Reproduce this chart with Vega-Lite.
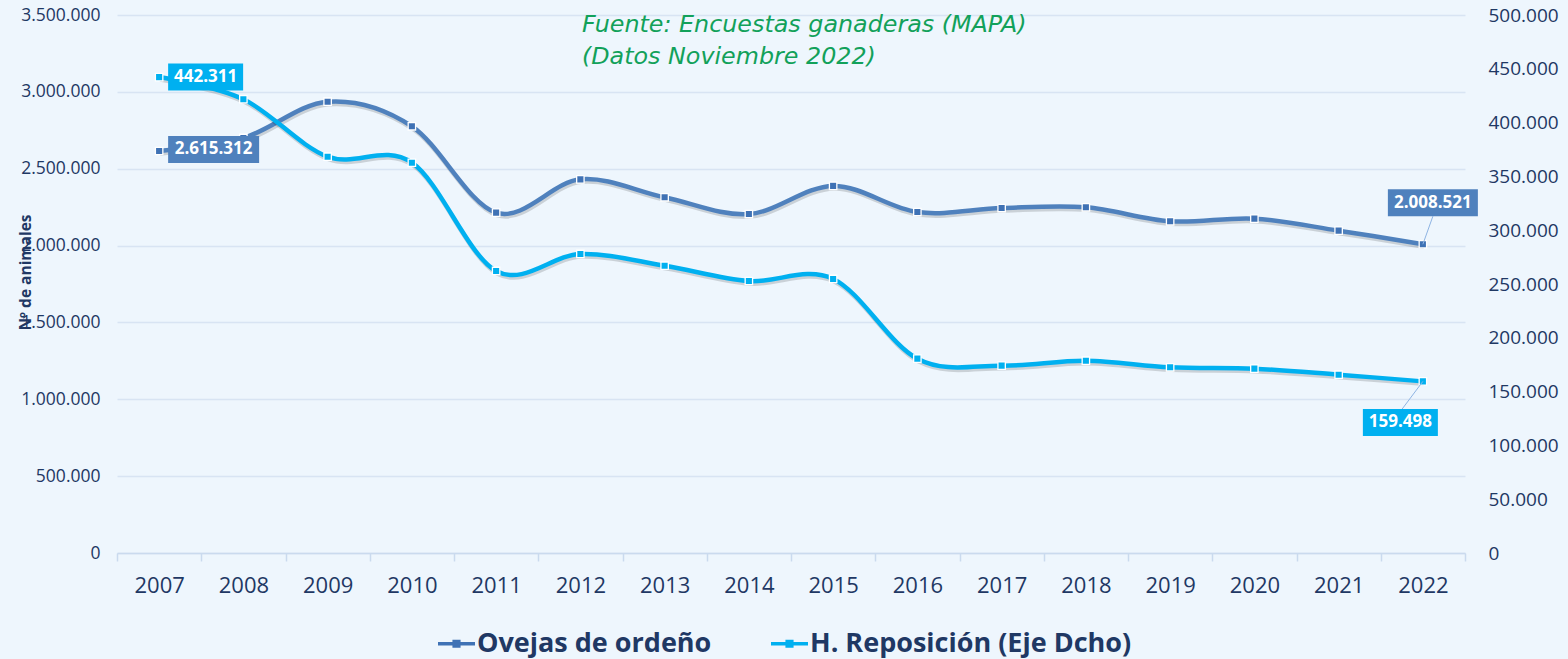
{
  "$schema": "https://vega.github.io/schema/vega-lite/v6.json",
  "width": 1348,
  "height": 538,
  "autosize": {"type": "none"},
  "padding": {"left": 117, "top": 15, "right": 103, "bottom": 106},
  "background": "#EEF6FD",
  "title": {
    "text": ["Fuente: Encuestas ganaderas (MAPA)", "(Datos Noviembre 2022)"],
    "anchor": "start",
    "frame": "group",
    "orient": "top",
    "dx": 465,
    "offset": -63,
    "font": "DejaVu Sans",
    "fontSize": 23.8,
    "fontStyle": "italic",
    "fontWeight": "normal",
    "color": "#12A15A",
    "lineHeight": 32
  },
  "data": {
    "values": [
      {"year": "2007", "ovejas": 2615312, "repos": 442311},
      {"year": "2008", "ovejas": 2700000, "repos": 421700},
      {"year": "2009", "ovejas": 2936000, "repos": 368300},
      {"year": "2010", "ovejas": 2776000, "repos": 362700},
      {"year": "2011", "ovejas": 2214000, "repos": 262100},
      {"year": "2012", "ovejas": 2431000, "repos": 277900},
      {"year": "2013", "ovejas": 2314000, "repos": 267000},
      {"year": "2014", "ovejas": 2205000, "repos": 252800},
      {"year": "2015", "ovejas": 2388000, "repos": 254700},
      {"year": "2016", "ovejas": 2218000, "repos": 180600},
      {"year": "2017", "ovejas": 2244000, "repos": 174100},
      {"year": "2018", "ovejas": 2249000, "repos": 178700},
      {"year": "2019", "ovejas": 2158000, "repos": 172600},
      {"year": "2020", "ovejas": 2175000, "repos": 171300},
      {"year": "2021", "ovejas": 2097000, "repos": 165700},
      {"year": "2022", "ovejas": 2008521, "repos": 159498}
    ]
  },
  "encoding": {
    "x": {
      "field": "year",
      "type": "ordinal",
      "scale": {"type": "band", "paddingInner": 0, "paddingOuter": 0},
      "axis": {
        "title": null,
        "labelAngle": 0,
        "labelFont": "Open Sans",
        "labelFontSize": 22,
        "labelColor": "#1F3864",
        "labelPadding": 14,
        "tickBand": "extent",
        "tickSize": 8,
        "tickColor": "#CADAEE",
        "tickWidth": 1.5,
        "domainColor": "#CADAEE",
        "domainWidth": 1.5,
        "grid": false
      }
    }
  },
  "layer": [
    {
      "encoding": {
        "y": {
          "field": "ovejas",
          "type": "quantitative",
          "scale": {"domain": [0, 3500000], "nice": false},
          "axis": {
            "title": "Nº de animales",
            "values": [0, 500000, 1000000, 1500000, 2000000, 2500000, 3000000, 3500000],
            "format": ",d",
            "labelFont": "Open Sans",
            "labelFontSize": 17.5,
            "labelColor": "#1F3864",
            "labelPadding": 17,
            "ticks": false,
            "tickSize": 0,
            "domain": false,
            "grid": true,
            "gridColor": "#D8E4F3",
            "gridWidth": 1.5,
            "titleX": -92,
            "titleY": 257,
            "titleAngle": -90,
            "titleAlign": "center",
            "titleBaseline": "middle",
            "titleFont": "Open Sans",
            "titleFontSize": 15.5,
            "titleFontWeight": "bold",
            "titleColor": "#1F3864"
          }
        }
      },
      "layer": [
        {"mark": {"type": "line", "interpolate": "cardinal", "color": "#000000", "strokeOpacity": 0.15, "strokeWidth": 4.5, "xOffset": 1, "yOffset": 2.5}},
        {"mark": {"type": "line", "interpolate": "cardinal", "color": "#4F81BD", "strokeWidth": 4.5}},
        {
          "mark": {"type": "point", "shape": "square", "filled": true, "size": 55, "stroke": "white", "strokeWidth": 1.3, "opacity": 1},
          "encoding": {
            "color": {
              "datum": "Ovejas de ordeño",
              "type": "nominal",
              "scale": {"domain": ["Ovejas de ordeño", "H. Reposición (Eje Dcho)"], "range": ["#3F72B5", "#00B0F0"]},
              "legend": {
                "orient": "none",
                "legendX": 321,
                "legendY": 610,
                "direction": "horizontal",
                "title": null,
                "symbolType": "M-1,-0.09H1V0.09H-1Z M-0.22,-0.22H0.22V0.22H-0.22Z",
                "symbolSize": 1369,
                "symbolStrokeWidth": 0,
                "labelFont": "Open Sans",
                "labelFontSize": 27,
                "labelFontWeight": "bold",
                "labelColor": "#1F3864",
                "labelLimit": 600,
                "columnPadding": 59,
                "labelOffset": 2
              }
            }
          }
        },
        {
          "transform": [{"filter": "datum.year == '2022'"}],
          "mark": {"type": "rule", "color": "#8EB4E3", "strokeWidth": 1, "x2Offset": 10, "y2Offset": -28},
          "encoding": {"x2": {"field": "year"}, "y2": {"field": "ovejas"}}
        },
        {
          "transform": [{"filter": "datum.year == '2007'"}],
          "mark": {"type": "rect", "color": "#4F81BD", "width": 91, "height": 27, "xOffset": 54.5, "yOffset": -1.5}
        },
        {
          "transform": [{"filter": "datum.year == '2007'"}],
          "mark": {"type": "text", "color": "white", "font": "Open Sans", "fontWeight": "bold", "fontSize": 17, "dx": 54.5, "dy": -1.5, "baseline": "middle", "align": "center"},
          "encoding": {"text": {"field": "ovejas", "type": "quantitative", "format": ",d"}}
        },
        {
          "transform": [{"filter": "datum.year == '2022'"}],
          "mark": {"type": "rect", "color": "#4F81BD", "width": 90, "height": 27, "xOffset": 10, "yOffset": -41.5}
        },
        {
          "transform": [{"filter": "datum.year == '2022'"}],
          "mark": {"type": "text", "color": "white", "font": "Open Sans", "fontWeight": "bold", "fontSize": 17, "dx": 10, "dy": -41.5, "baseline": "middle", "align": "center"},
          "encoding": {"text": {"field": "ovejas", "type": "quantitative", "format": ",d"}}
        }
      ]
    },
    {
      "encoding": {
        "y": {
          "field": "repos",
          "type": "quantitative",
          "scale": {"domain": [0, 500000], "nice": false},
          "axis": {
            "orient": "right",
            "title": null,
            "values": [0, 50000, 100000, 150000, 200000, 250000, 300000, 350000, 400000, 450000, 500000],
            "format": ",d",
            "labelFont": "Open Sans",
            "labelFontSize": 19,
            "labelColor": "#1F3864",
            "labelPadding": 23,
            "ticks": false,
            "tickSize": 0,
            "domain": false,
            "grid": false
          }
        }
      },
      "layer": [
        {"mark": {"type": "line", "interpolate": "cardinal", "color": "#000000", "strokeOpacity": 0.15, "strokeWidth": 4.5, "xOffset": 1, "yOffset": 2.5}},
        {"mark": {"type": "line", "interpolate": "cardinal", "color": "#00B0F0", "strokeWidth": 4.5}},
        {
          "mark": {"type": "point", "shape": "square", "filled": true, "size": 55, "stroke": "white", "strokeWidth": 1.3, "opacity": 1},
          "encoding": {"color": {"datum": "H. Reposición (Eje Dcho)", "type": "nominal"}}
        },
        {
          "transform": [{"filter": "datum.year == '2022'"}],
          "mark": {"type": "rule", "color": "#8EB4E3", "strokeWidth": 1, "x2Offset": -21, "y2Offset": 28},
          "encoding": {"x2": {"field": "year"}, "y2": {"field": "repos"}}
        },
        {
          "transform": [{"filter": "datum.year == '2007'"}],
          "mark": {"type": "rect", "color": "#00B0F0", "width": 75, "height": 27, "xOffset": 46.5, "yOffset": 0}
        },
        {
          "transform": [{"filter": "datum.year == '2007'"}],
          "mark": {"type": "text", "color": "white", "font": "Open Sans", "fontWeight": "bold", "fontSize": 17, "dx": 46.5, "dy": 0, "baseline": "middle", "align": "center"},
          "encoding": {"text": {"field": "repos", "type": "quantitative", "format": ",d"}}
        },
        {
          "transform": [{"filter": "datum.year == '2022'"}],
          "mark": {"type": "rect", "color": "#00B0F0", "width": 75, "height": 27, "xOffset": -22.5, "yOffset": 41}
        },
        {
          "transform": [{"filter": "datum.year == '2022'"}],
          "mark": {"type": "text", "color": "white", "font": "Open Sans", "fontWeight": "bold", "fontSize": 17, "dx": -22.5, "dy": 41, "baseline": "middle", "align": "center"},
          "encoding": {"text": {"field": "repos", "type": "quantitative", "format": ",d"}}
        }
      ]
    }
  ],
  "resolve": {"scale": {"y": "independent"}},
  "config": {
    "view": {"stroke": null},
    "locale": {"number": {"decimal": ",", "thousands": ".", "grouping": [3], "currency": ["", " €"]}}
  }
}
